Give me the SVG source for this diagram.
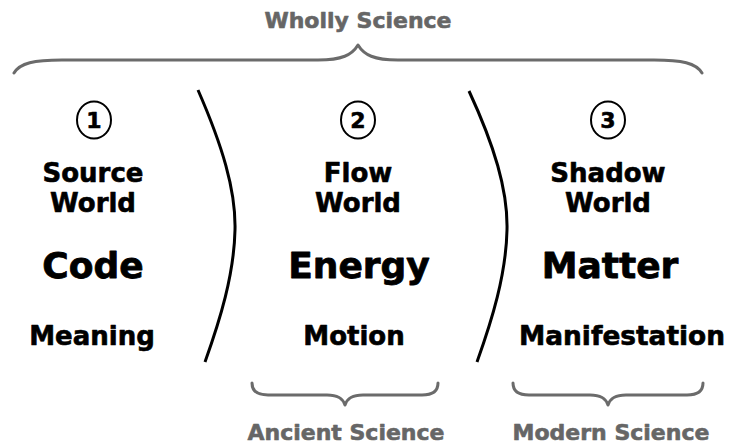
<svg xmlns="http://www.w3.org/2000/svg" width="731" height="444" viewBox="0 0 731 444">
<style>
.t{font-family:"DejaVu Sans","Verdana",sans-serif;font-weight:bold;text-anchor:middle;fill:#000;stroke:#000;stroke-width:0.6;stroke-linejoin:round}
.g{fill:#666;stroke:#666}
.brace{fill:none;stroke:#6b6b6b;stroke-width:3;stroke-linecap:round;stroke-linejoin:round}
.div{fill:none;stroke:#000;stroke-width:3;stroke-linecap:butt}
.circ{fill:none;stroke:#000;stroke-width:2}
.s22{font-size:22px}
.s26{font-size:26px}
.s36{font-size:36px;stroke-width:0.8}
.n{font-size:22px}
</style>
<rect width="731" height="444" fill="#fff"/>
<g id="wholly-science">
<path class="brace" d="M14,73 C20,63 34,60 62,60 L318,60 C342,60 352,55 358,45 C364,55 374,60 398,60 L654,60 C682,60 696,63 702,73"/>
<text class="t g s22" x="358" y="28">Wholly Science</text>
</g>
<g id="source-world">
<ellipse class="circ" cx="94" cy="120" rx="17" ry="18.5"/>
<text class="t n" x="94" y="128">1</text>
<text class="t s26" x="93" y="182">Source</text>
<text class="t s26" x="93" y="212">World</text>
<text class="t s36" x="93" y="278">Code</text>
<text class="t s26" x="92" y="345">Meaning</text>
</g>
<g id="flow-world">
<ellipse class="circ" cx="358" cy="120" rx="17" ry="18.5"/>
<text class="t n" x="358" y="128">2</text>
<text class="t s26" x="358" y="182">Flow</text>
<text class="t s26" x="358" y="212">World</text>
<text class="t s36" x="359" y="278">Energy</text>
<text class="t s26" x="354" y="345">Motion</text>
</g>
<g id="shadow-world">
<ellipse class="circ" cx="608" cy="120" rx="17" ry="18.5"/>
<text class="t n" x="608" y="128">3</text>
<text class="t s26" x="608" y="182">Shadow</text>
<text class="t s26" x="608" y="212">World</text>
<text class="t s36" x="610" y="278">Matter</text>
<text class="t s26" x="622" y="345" textLength="206" lengthAdjust="spacingAndGlyphs">Manifestation</text>
</g>
<g id="ancient-science">
<path class="brace" d="M252,383 C252,391 257,395 268,395 L327,395 C339,395 343,399 345,405 C347,399 351,395 363,395 L422,395 C433,395 438,391 438,383"/>
<text class="t g s22" x="346" y="440">Ancient Science</text>
</g>
<g id="modern-science">
<path class="brace" d="M513,383 C513,391 518,395 529,395 L590,395 C602,395 606,399 608,405 C610,399 614,395 626,395 L687,395 C698,395 703,391 703,383"/>
<text class="t g s22" x="611" y="440">Modern Science</text>
</g>
<g id="connectors">
<path class="div" d="M198,90 C222,145 236,190 235,230 C234,275 220,320 205,362"/>
<path class="div" d="M469,91 C494,145 508,190 507,230 C506,275 492,320 477,362"/>
</g>
</svg>
